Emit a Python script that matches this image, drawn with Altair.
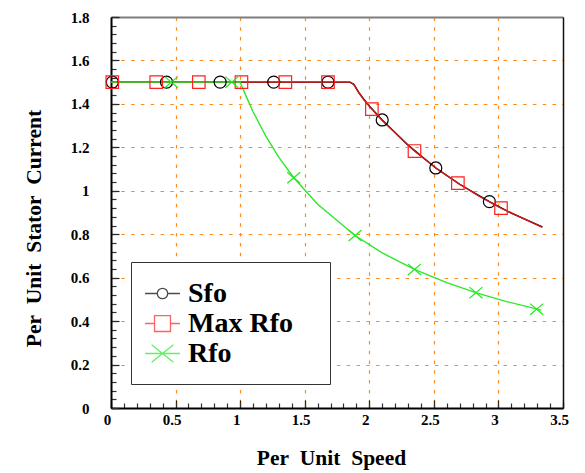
import altair as alt
import pandas as pd

SERIF = "Liberation Serif"
ORANGE = "#ff8c1a"

SERIES = ["Sfo", "Max Rfo", "Rfo"]
LINE_COLORS = ["#000000", "#d01818", "#2ee62e"]
MARK_COLORS = ["#000000", "#ff2020", "#1eea1e"]

# --- curves (per-unit speed vs per-unit stator current) ---
sfo_curve_speed = [0.0, 1.85, 1.88, 1.92, 1.96, 2.0, 2.1, 2.3, 2.515, 2.7, 2.93, 3.1, 3.34]
sfo_curve_current = [1.5, 1.5, 1.49, 1.452, 1.42, 1.39, 1.326, 1.21, 1.105, 1.03, 0.95, 0.897, 0.834]

maxrfo_curve_speed = [0.0, 1.85, 1.88, 1.92, 1.96, 2.02, 2.1, 2.35, 2.52, 2.686, 2.85, 3.02, 3.34]
maxrfo_curve_current = [1.5, 1.5, 1.49, 1.45, 1.418, 1.376, 1.324, 1.183, 1.103, 1.035, 0.975, 0.92, 0.832]

rfo_curve_speed = [0.0, 1.0, 1.05, 1.1, 1.2, 1.3, 1.415, 1.6, 1.89, 2.1, 2.35, 2.6, 2.83, 3.05, 3.3, 3.33]
rfo_curve_current = [1.5, 1.5, 1.43, 1.364, 1.25, 1.154, 1.06, 0.938, 0.794, 0.714, 0.638, 0.577, 0.53, 0.492, 0.455, 0.45]

# --- marker positions ---
sfo_mark_speed = [0.01, 0.43, 0.845, 1.26, 1.68, 2.1, 2.515, 2.93]
sfo_mark_current = [1.5, 1.5, 1.5, 1.5, 1.5, 1.326, 1.105, 0.95]

maxrfo_mark_speed = [0.01, 0.35, 0.68, 1.01, 1.35, 1.68, 2.02, 2.35, 2.686, 3.02]
maxrfo_mark_current = [1.5, 1.5, 1.5, 1.5, 1.5, 1.5, 1.376, 1.183, 1.035, 0.92]

rfo_mark_speed = [0.467, 0.935, 1.415, 1.89, 2.35, 2.826, 3.296]
rfo_mark_current = [1.5, 1.5, 1.06, 0.794, 0.638, 0.531, 0.455]

# --- axis ticks ---
x_major = [0, 0.5, 1, 1.5, 2, 2.5, 3, 3.5]
y_major = [0, 0.2, 0.4, 0.6, 0.8, 1, 1.2, 1.4, 1.6, 1.8]
x_minor = [round(i * 0.1, 2) for i in range(36)]
y_minor = [round(i * 0.04, 2) for i in range(46)]


def frame(speed, current, name):
    return pd.DataFrame({"speed": speed, "current": current,
                         "series": name, "idx": range(len(speed))})


curves = pd.concat([
    frame(sfo_curve_speed, sfo_curve_current, "Sfo"),
    frame(maxrfo_curve_speed, maxrfo_curve_current, "Max Rfo"),
    frame(rfo_curve_speed, rfo_curve_current, "Rfo"),
], ignore_index=True)

markers = pd.concat([
    frame(sfo_mark_speed, sfo_mark_current, "Sfo"),
    frame(maxrfo_mark_speed, maxrfo_mark_current, "Max Rfo"),
    frame(rfo_mark_speed, rfo_mark_current, "Rfo"),
], ignore_index=True)

x_scale = alt.Scale(domain=[0, 3.5], nice=False, zero=False)
y_scale = alt.Scale(domain=[0, 1.8], nice=False, zero=False)

empty = alt.Data(values=[])


def bare_axis(orient, **kw):
    base = dict(orient=orient, labels=False, grid=False, title=None,
                domain=False, ticks=False)
    base.update(kw)
    return alt.Axis(**base)


# outer frame: gray top edge, black right edge
frame_layer = alt.Chart(empty).mark_point().encode(
    x=alt.X("speed:Q", scale=x_scale,
            axis=bare_axis("top", domain=True, domainColor="#7d7d7d", domainWidth=2)),
    y=alt.Y("current:Q", scale=y_scale,
            axis=bare_axis("right", domain=True, domainColor="#111111", domainWidth=1.5)),
)

# inward-pointing ticks (axes pulled inside the plot by a negative offset)
major_ticks = alt.Chart(empty).mark_point().encode(
    x=alt.X("speed:Q", scale=x_scale,
            axis=bare_axis("bottom", ticks=True, values=x_major, tickSize=8,
                           offset=-8, tickColor="#222222", tickWidth=1.2)),
    y=alt.Y("current:Q", scale=y_scale,
            axis=bare_axis("left", ticks=True, values=y_major, tickSize=8,
                           offset=-8, tickColor="#222222", tickWidth=1.2)),
)
minor_ticks = alt.Chart(empty).mark_point().encode(
    x=alt.X("speed:Q", scale=x_scale,
            axis=bare_axis("bottom", ticks=True, values=x_minor, tickSize=5,
                           offset=-5, tickColor="#333333", tickWidth=1.2)),
    y=alt.Y("current:Q", scale=y_scale,
            axis=bare_axis("left", ticks=True, values=y_minor, tickSize=5,
                           offset=-5, tickColor="#333333", tickWidth=1.2)),
)

label_style = dict(labelFont=SERIF, labelFontSize=15, labelFontWeight="bold",
                   labelColor="#000000", titleFont=SERIF, titleFontSize=21.5,
                   titleFontWeight="bold", titleColor="#000000",
                   gridColor=ORANGE, gridDash=[3.5, 6.3], gridWidth=1.2,
                   domainColor="#000000", domainWidth=2, ticks=False,
                   labelFlush=False, labelOverlap=False, format="~g")

lines = alt.Chart(curves).mark_line(strokeWidth=1.4).encode(
    x=alt.X("speed:Q", scale=x_scale,
            axis=alt.Axis(orient="bottom", values=x_major, grid=True,
                          gridOpacity={"condition": {"test": "datum.value <= 0 || datum.value >= 3.5",
                                                     "value": 0}, "value": 1},
                          labelPadding=4, labelOffset=-4,
                          title="Per\u00a0 Unit\u00a0 Speed",
                          titleX=220, titleY=56, titleAlign="center",
                          titleBaseline="alphabetic", **label_style)),
    y=alt.Y("current:Q", scale=y_scale,
            axis=alt.Axis(orient="left", values=y_major, grid=True,
                          gridOpacity={"condition": {"test": "datum.value <= 0",
                                                     "value": 0}, "value": 1},
                          labelPadding=22,
                          title="Per\u00a0 Unit\u00a0 Stator\u00a0 Current",
                          titleX=-71, titleY=211, titleAngle=270, titleAlign="center",
                          titleBaseline="alphabetic", **label_style)),
    color=alt.Color("series:N", scale=alt.Scale(domain=SERIES, range=LINE_COLORS), legend=None),
    detail="series:N",
    order="idx:Q",
)

X_PATH = "M-1,-0.85L1,0.85M-1,0.85L1,-0.85"

points = alt.Chart(markers).mark_point(filled=False, strokeWidth=1.2, opacity=1).encode(
    x=alt.X("speed:Q", scale=x_scale, axis=None),
    y=alt.Y("current:Q", scale=y_scale, axis=None),
    color=alt.Color("series:N", scale=alt.Scale(domain=SERIES, range=MARK_COLORS), legend=None),
    shape=alt.Shape("series:N", scale=alt.Scale(domain=SERIES, range=["circle", "square", X_PATH]),
                    legend=None),
    size=alt.Size("series:N", scale=alt.Scale(domain=SERIES, range=[144, 169, 169]), legend=None),
)

# legend symbols: short line segment with the series marker in the middle
LEGEND_PATHS = [
    "M-1.2,0H-0.36A0.36,0.36 0 1,1 0.36,0A0.36,0.36 0 1,1 -0.36,0M0.36,0H1.2",
    "M-1.2,0H-0.55M-0.55,-0.55H0.55V0.55H-0.55ZM0.55,0H1.2",
    "M-1.2,0H1.2M-0.75,-0.6L0.75,0.6M-0.75,0.6L0.75,-0.6",
]

# trailing blank room after each label keeps the legend box wide
legend = alt.Legend(orient="none", legendX=20, legendY=245, title=None, padding=16,
                    strokeColor="#333333", fillColor="white", symbolSize=841,
                    symbolStrokeWidth=1.3, labelFont=SERIF, labelFontSize=28,
                    labelFontWeight="bold", labelColor="#000000", labelOffset=10,
                    rowPadding=0, labelLimit=300,
                    labelExpr="datum.label + '\u00a0\u00a0\u00a0\u200b'")

legend_layer = alt.Chart(markers).transform_filter("false").mark_point(
    filled=False, strokeWidth=1.3).encode(
    x=alt.X("speed:Q", scale=x_scale, axis=None),
    y=alt.Y("current:Q", scale=y_scale, axis=None),
    color=alt.Color("series:N", scale=alt.Scale(domain=SERIES, range=MARK_COLORS), legend=legend),
    shape=alt.Shape("series:N", scale=alt.Scale(domain=SERIES, range=LEGEND_PATHS), legend=legend),
)

chart = alt.layer(frame_layer, major_ticks, minor_ticks, lines, points, legend_layer).resolve_axis(
    x="independent", y="independent"
).resolve_scale(
    color="independent", shape="independent", size="independent"
).properties(
    width=452, height=391,
    autosize=alt.AutoSizeParams(type="none"),
    padding={"left": 111, "top": 17, "right": 22, "bottom": 65},
    background="white",
).configure_view(stroke="transparent")

chart.save("out.html", embed_options={"renderer": "svg", "actions": False})
